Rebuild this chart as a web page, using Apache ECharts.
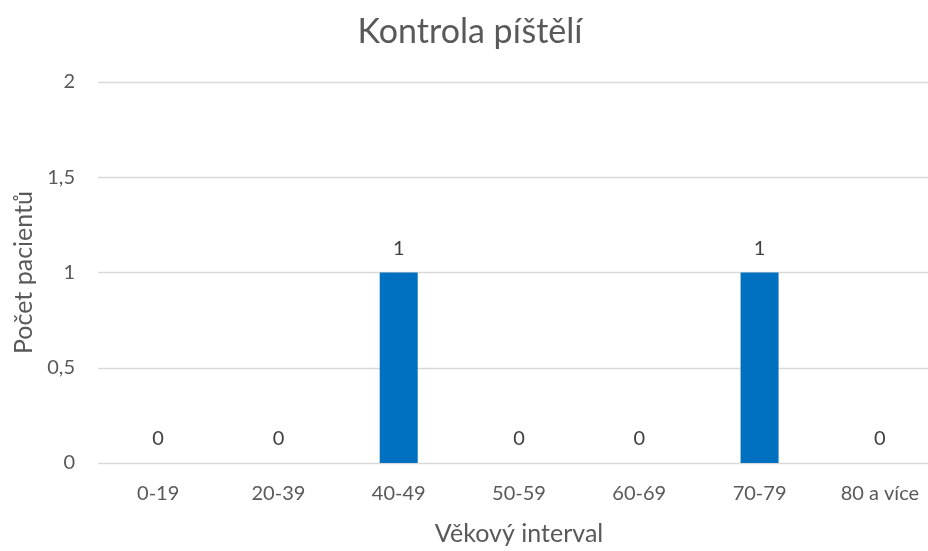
<!DOCTYPE html>
<html>
<head>
<meta charset="utf-8">
<script src="https://cdn.jsdelivr.net/npm/echarts@6/dist/echarts.min.js"></script>
<style>
  html, body { margin: 0; padding: 0; background: #fff; overflow: hidden; }
  /* the plot runs a little past the right edge of the window */
  #chart { width: 940px; height: 551px; }
</style>
</head>
<body>
<div id="chart"></div>
<script>
// Age groups and patient counts
const categories = ['0-19', '20-39', '40-49', '50-59', '60-69', '70-79', '80 a více'];
const patientCounts = [0, 0, 1, 0, 0, 1, 0];
const yTicks = [0, 0.5, 1, 1.5, 2];

const FONT = 'Lato, "Open Sans", sans-serif';
const chart = echarts.init(document.getElementById('chart'), null, { renderer: 'canvas' });

chart.setOption({
  animation: false,
  backgroundColor: '#ffffff',
  title: {
    text: 'Kontrola píštělí',
    left: 'center',
    top: 10,
    textStyle: { fontFamily: FONT, fontSize: 34, fontWeight: 'normal', color: '#595959' }
  },
  grid: { left: 98, top: 82, right: 0, height: 387, containLabel: false },
  xAxis: {
    type: 'category',
    data: categories,
    name: 'Věkový interval',
    nameLocation: 'middle',
    nameGap: 58,
    nameTextStyle: { fontFamily: FONT, fontSize: 25, color: '#595959' },
    axisLine: { show: false },
    axisTick: { show: false },
    axisLabel: { fontFamily: FONT, fontSize: 20, color: '#595959', margin: 21 }
  },
  yAxis: {
    type: 'value',
    min: yTicks[0],
    max: yTicks[yTicks.length - 1],
    interval: yTicks[1] - yTicks[0],
    name: 'Počet pacientů',
    nameLocation: 'middle',
    nameGap: 62,
    nameTextStyle: { fontFamily: FONT, fontSize: 25, color: '#595959' },
    axisLine: { show: false },
    axisTick: { show: false },
    axisLabel: {
      fontFamily: FONT, fontSize: 20, color: '#595959', margin: 23,
      formatter: v => String(v).replace('.', ',')
    },
    splitLine: { lineStyle: { color: '#D9D9D9', width: 1.3 } }
  },
  series: [{
    type: 'bar',
    data: patientCounts,
    barWidth: 38,
    itemStyle: { color: '#0070C0' },
    label: {
      show: true,
      position: 'top',
      distance: 14,
      fontFamily: FONT,
      fontSize: 20,
      color: '#404040'
    }
  }]
});
</script>
</body>
</html>
